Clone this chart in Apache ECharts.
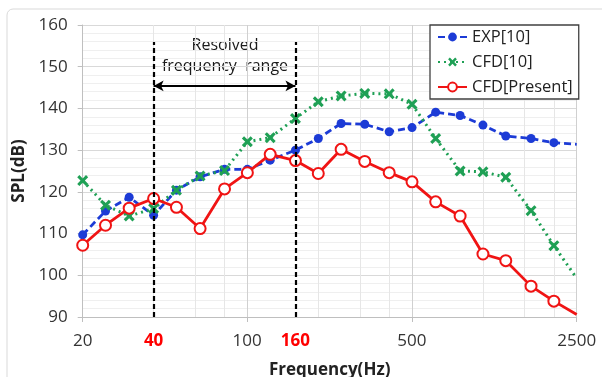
<!DOCTYPE html>
<html>
<head>
<meta charset="utf-8">
<script src="https://cdn.jsdelivr.net/npm/echarts@6/dist/echarts.min.js"></script>
<style>
  html, body { margin: 0; padding: 0; background: #fff; }
  #chart { width: 602px; height: 377px; }
</style>
</head>
<body>
<div id="chart"></div>
<script>
// 1/3-octave band centre frequencies (Hz)
const freqs = [20, 25, 31.5, 40, 50, 63, 80, 100, 125, 160, 200, 250, 315, 400, 500, 630, 800, 1000, 1250, 1600, 2000, 2500]
const exp10 = [109.7, 115.4, 118.7, 114.4, 120.4, 123.6, 125.4, 125.4, 127.6, 130.0, 132.8, 136.4, 136.2, 134.4, 135.4, 139.1, 138.3, 136.0, 133.4, 132.8, 131.8, 131.4]
const cfd10 = [122.7, 116.8, 114.2, 116.0, 120.4, 123.8, 125.1, 132.0, 133.0, 137.6, 141.6, 143.0, 143.6, 143.5, 141.0, 132.8, 125.0, 124.8, 123.5, 115.5, 107.1, 99.3]
const cfdPresent = [107.2, 112.0, 116.1, 118.4, 116.3, 111.2, 120.7, 124.6, 129.0, 127.5, 124.4, 130.2, 127.3, 124.6, 122.4, 117.6, 114.2, 105.1, 103.5, 97.4, 93.8, 90.6]

// axis labels / grid positions
const majorTicks = [20, 100, 500, 2500]
const rangeTicks = [40, 160]
const minorGrid = [40, 60, 80, 200, 300, 400, 1000, 1500, 2000]
const majorGrid = [100, 500, 2500]
const seriesNames = ["EXP[10]", "CFD[10]", "CFD[Present]"]

const FONT = "Open Sans"
const BLUE = "#1c3bd6"
const GREEN = "#1fa055"
const RED = "#f01414"
const CROSS = "path://M2,0L5,3L8,0L10,2L7,5L10,8L8,10L5,7L2,10L0,8L3,5L0,2Z"

const toPoints = (vals) =>
  freqs.map((f, i) =>
    i === freqs.length - 1 ? { value: [f, vals[i]], symbol: "none" } : [f, vals[i]]
  )

const vLine = (f, color) => [
  { coord: [f, 90], lineStyle: { color: color, width: 1, type: "solid" } },
  { coord: [f, 160] },
]

// log-5 ticks come out as 99.78.., 498.9.. : snap them to the printed labels
const tickLabel = (v) => {
  const m = majorTicks.find((t) => Math.abs(v / t - 1) < 0.01)
  if (!m) return ""
  if (m === 2500 && v !== 2500) return ""
  return String(m)
}

const chart = echarts.init(document.getElementById("chart"))

const option = {
  animation: false,
  textStyle: { fontFamily: FONT },
  grid: { left: 82.7, right: 25.3, top: 25, bottom: 60, containLabel: false, outerBoundsMode: "none" },
  xAxis: {
    type: "log",
    logBase: 5,
    min: 20,
    max: 2500,
    interval: 1,
    name: "Frequency(Hz)",
    nameLocation: "middle",
    nameGap: 45,
    nameTextStyle: { fontSize: 17, fontWeight: "bold", color: "#222" },
    axisLine: { lineStyle: { color: "#bfbfbf", width: 1 } },
    axisTick: { show: true, length: 5, lineStyle: { color: "#bfbfbf" } },
    axisLabel: { fontSize: 17, color: "#333", margin: 16, formatter: tickLabel, hideOverlap: false },
    splitLine: { show: false },
  },
  yAxis: {
    type: "value",
    min: 90,
    max: 160,
    interval: 10,
    name: "SPL(dB)",
    nameLocation: "middle",
    nameGap: 50,
    nameTextStyle: { fontSize: 17, fontWeight: "bold", color: "#222" },
    axisLine: { show: true, lineStyle: { color: "#bfbfbf", width: 1 } },
    axisTick: { show: true, length: 5, lineStyle: { color: "#bfbfbf" } },
    axisLabel: { fontSize: 17, color: "#333", margin: 15 },
    splitLine: { lineStyle: { color: "#d9d9d9", width: 1 } },
    minorTick: { show: false, splitNumber: 5 },
    minorSplitLine: { show: true, lineStyle: { color: "#efefef", width: 1 } },
  },
  legend: {
    data: seriesNames,
    orient: "vertical",
    left: 430,
    top: 25,
    backgroundColor: "#fff",
    borderColor: "#404040",
    borderWidth: 1.3,
    padding: [3, 6, 3, 7],
    itemWidth: 29,
    itemHeight: 11,
    itemGap: 7,
    textStyle: { fontSize: 16.5, color: "#222", lineHeight: 18 },
  },
  graphic: [
    {
      type: "rect",
      silent: true,
      shape: { x: 7, y: 9, width: 700, height: 500, r: 6 },
      style: { fill: null, stroke: "#d9d9d9", lineWidth: 1 },
    },
    {
      type: "text",
      x: 225, y: 45,
      style: { text: "Resolved", fontSize: 16, fontFamily: FONT, fill: "#1a1a1a", align: "center", verticalAlign: "middle" },
    },
    {
      type: "text",
      x: 225, y: 66,
      style: { text: "frequency  range", fontSize: 16, fontFamily: FONT, fill: "#1a1a1a", align: "center", verticalAlign: "middle" },
    },
  ],
  series: [
    {
      name: "gridlines",
      type: "line",
      data: [],
      markLine: {
        silent: true,
        z: 1,
        symbol: "none",
        label: { show: false },
        data: [
          ...minorGrid.map((f) => vLine(f, "#e6e6e6")),
          ...majorGrid.map((f) => vLine(f, "#d0d0d0")),
        ],
      },
    },
    {
      name: seriesNames[0],
      type: "line",
      z: 3,
      data: toPoints(exp10),
      symbol: "circle",
      symbolSize: 9,
      itemStyle: { color: BLUE },
      lineStyle: { color: BLUE, width: 2.8, type: [7, 4] },
    },
    {
      name: seriesNames[1],
      type: "line",
      z: 3,
      data: toPoints(cfd10),
      symbol: CROSS,
      symbolSize: 11,
      itemStyle: { color: GREEN },
      lineStyle: { color: GREEN, width: 3, type: [2, 4] },
    },
    {
      name: seriesNames[2],
      type: "line",
      z: 4,
      data: toPoints(cfdPresent),
      symbol: "emptyCircle",
      symbolSize: 11,
      itemStyle: { color: RED, borderWidth: 1.7 },
      lineStyle: { color: RED, width: 2.8 },
    },
    {
      name: "guides",
      type: "line",
      data: [],
      markLine: {
        silent: true,
        z: 6,
        symbol: "none",
        data: [
          ...rangeTicks.map((f) => [
            {
              coord: [f, 90],
              lineStyle: { color: "#000", width: 2.2, type: [5, 3] },
              label: {
                show: true,
                position: "start",
                distance: 16,
                formatter: String(f),
                fontSize: 17,
                fontWeight: "bold",
                color: "#ff0000",
                fontFamily: FONT,
              },
            },
            { coord: [f, 155.9] },
          ]),
          [
            {
              coord: [rangeTicks[0], 145.4],
              symbol: "arrow",
              symbolSize: [8, 10],
              lineStyle: { color: "#000", width: 2, type: "solid" },
              label: { show: false },
            },
            { coord: [rangeTicks[1], 145.4], symbol: "arrow", symbolSize: [8, 10] },
          ],
        ],
      },
    },
  ],
}

chart.setOption(option)
</script>
</body>
</html>
